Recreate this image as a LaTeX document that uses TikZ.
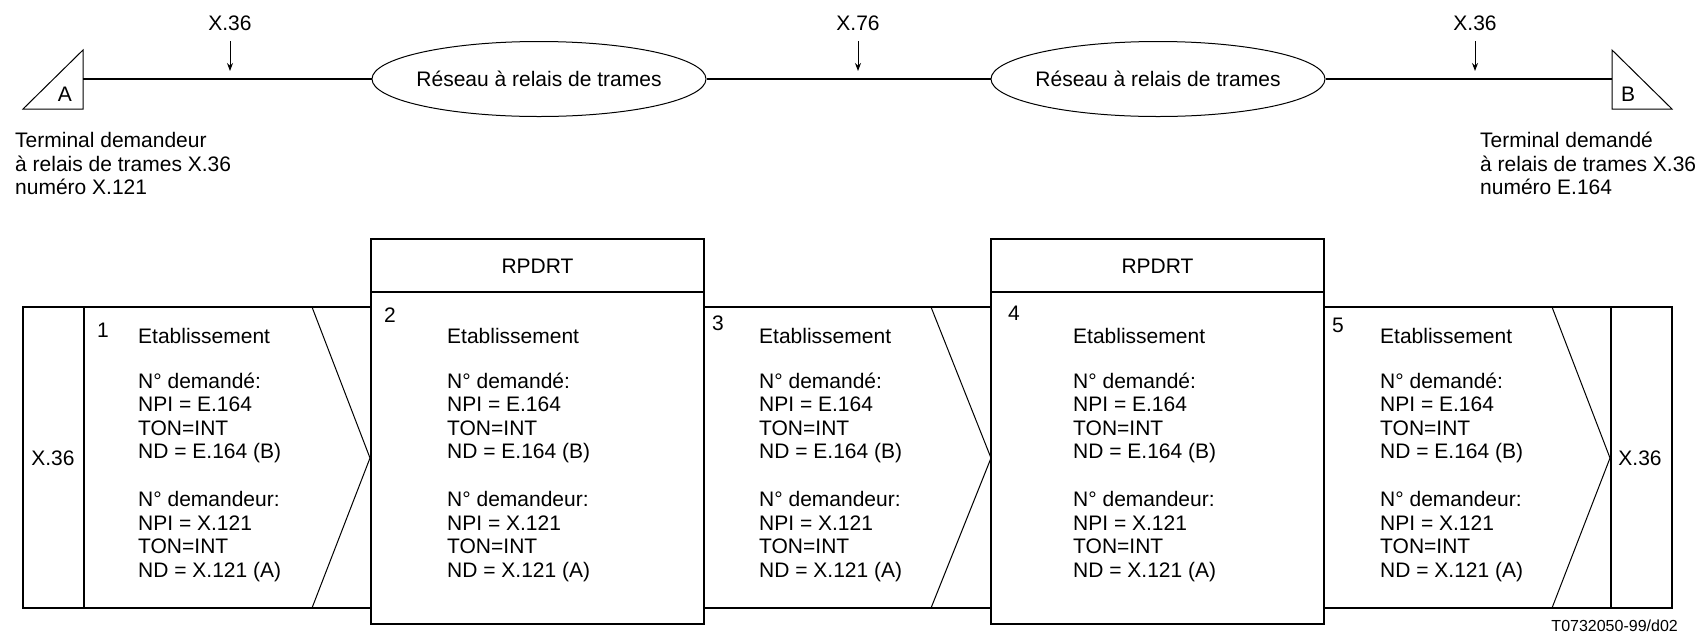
\documentclass[tikz,border=0pt]{standalone}
\usepackage{fontspec}
\setmainfont{Liberation Sans}
\usepackage{tikz}
\usetikzlibrary{arrows.meta,shapes.geometric}

\newcommand{\setupmsg}{Etablissement\\[21pt]
N° demandé:\\NPI = E.164\\TON=INT\\ND = E.164 (B)\\[24pt]
N° demandeur:\\NPI = X.121\\TON=INT\\ND = X.121 (A)}

\begin{document}
\begin{tikzpicture}[x=1pt,y=-1pt,
  lbl/.style={font=\fontsize{21}{23.6}\selectfont, inner sep=0pt},
  msg/.style={lbl, align=left, anchor=north west},
  net/.style={lbl, draw, fine, ellipse, inner xsep=-7pt, minimum width=334pt, minimum height=75pt},
  band/.style={line width=2pt},
  fine/.style={line width=1pt},
  boxline/.style={line width=1.4pt},
  arr/.style={line width=1pt, -{Stealth[length=8pt,width=6pt]}}]
\useasboundingbox (0,0) rectangle (1700,633);

% upper line: terminals and networks
\coordinate (termA) at (83,79);
\coordinate (termB) at (1612,79);
\draw[fine] (83,50) -- (83,109) -- (23,109) -- cycle;
\draw[fine] (1612,50) -- (1612,109) -- (1672,109) -- cycle;
\node[lbl] (labA) at (65,94) {A};
\node[lbl] (labB) at (1628,94) {B};

\node[net] (net1) at (539,79) {Réseau à relais de trames};
\node[net] (net2) at (1158,79) {Réseau à relais de trames};

\draw[band] (termA) -- (net1);
\draw[band] (net1) -- (net2);
\draw[band] (net2) -- (termB);

\foreach \nm/\px/\txt in {ifA/230/X.36, ifN/858/X.76, ifB/1475/X.36}
{
    \node[lbl, outer ysep=11pt] (\nm) at (\px,23) {\txt};
    \coordinate (\nm tip) at (\px,71);
    \draw[arr] (\nm) -- (\nm tip);
}

\node[msg] (infoA) at (15,132) {Terminal demandeur\\à relais de trames X.36\\numéro X.121};
\node[msg] (infoB) at (1480,132) {Terminal demandé\\à relais de trames X.36\\numéro E.164};

% lower part: message flow
\draw[band] (371,307) -- (23,307) -- (23,608) -- (371,608);
\draw[band] (84,307) -- (84,608);
\draw[band] (704,307) -- (991,307) (704,608) -- (991,608);
\draw[band] (1324,307) -- (1672,307) -- (1672,608) -- (1324,608);
\draw[band] (1611,307) -- (1611,608);

\foreach \k/\xl/\xr in {1/371/704, 2/991/1324}
{
    \draw[boxline] (\xl,239) rectangle (\xr,624);
    \draw[band] (\xl,292) -- (\xr,292);
    \node[lbl] (rp\k) at ({(\xl+\xr)/2},266) {RPDRT};
}

\foreach \a/\b in {312/370, 931/991, 1552/1610}
{
    \draw[fine] (\a,307) -- (\b,458) -- (\a,608);
}

\foreach \i/\nx/\ny/\tx in {1/103/330/138, 2/390/315/447, 3/718/323/759, 4/1014/313/1073, 5/1338/325/1380}
{
    \node[lbl] (num\i) at (\nx,\ny) {\i};
    \node[msg] (msg\i) at (\tx,328) {\setupmsg};
}

\node[lbl] (x36L) at (53,458) {X.36};
\node[lbl] (x36R) at (1640,458) {X.36};
\node[lbl, font=\fontsize{16}{19}\selectfont, anchor=base east] (ref) at (1678,631) {T0732050-99/d02};
\end{tikzpicture}
\end{document}
